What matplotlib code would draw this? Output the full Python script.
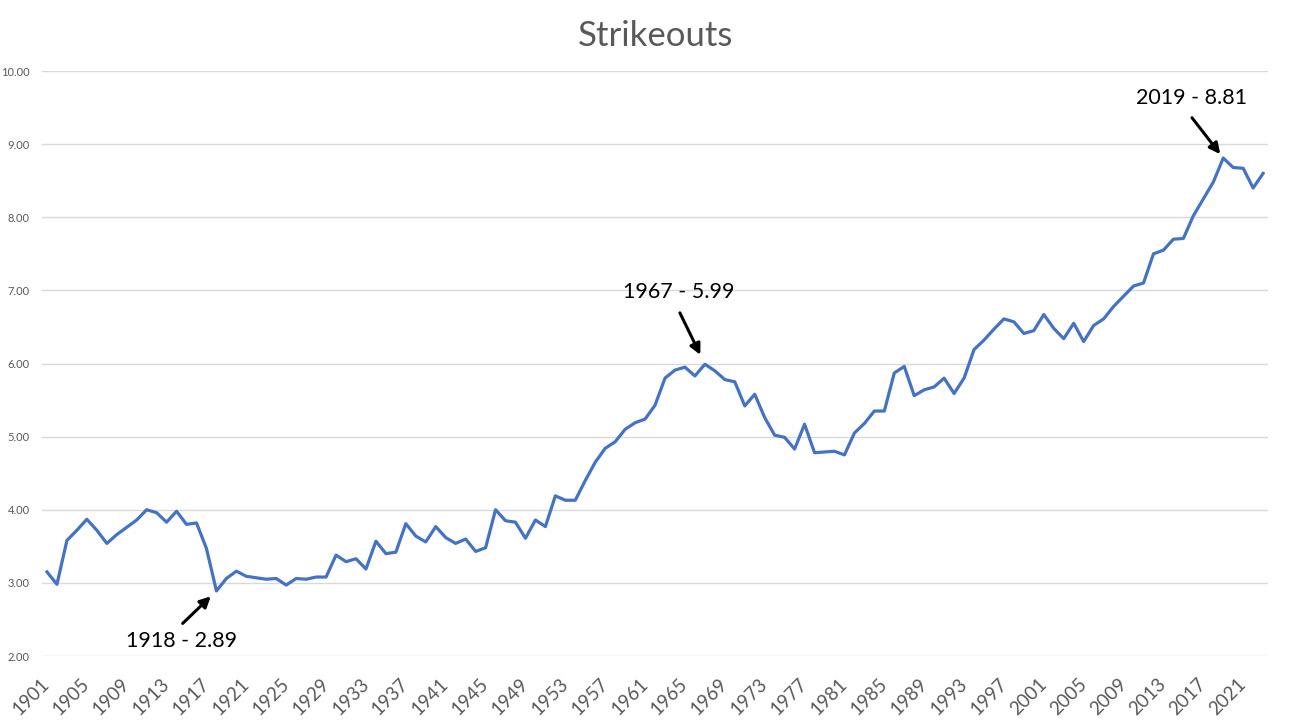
import numpy as np
import matplotlib.pyplot as plt

plt.rcParams['font.family'] = ['Lato', 'DejaVu Sans']

# 每年的三振数据
years = list(range(1901, 2024))
strikeouts = [
    3.15, 2.98, 3.58, 3.72, 3.87, 3.72, 3.54, 3.66, 3.76, 3.86,
    4.00, 3.96, 3.83, 3.98, 3.80, 3.82, 3.47, 2.89, 3.06, 3.16,
    3.09, 3.07, 3.05, 3.06, 2.97, 3.06, 3.05, 3.08, 3.08, 3.38,
    3.29, 3.33, 3.19, 3.57, 3.40, 3.42, 3.81, 3.64, 3.56, 3.77,
    3.62, 3.54, 3.60, 3.43, 3.48, 4.00, 3.85, 3.83, 3.61, 3.86,
    3.77, 4.19, 4.13, 4.13, 4.40, 4.65, 4.84, 4.93, 5.10, 5.19,
    5.24, 5.43, 5.80, 5.91, 5.95, 5.83, 5.99, 5.90, 5.78, 5.75,
    5.42, 5.58, 5.26, 5.02, 4.99, 4.83, 5.17, 4.78, 4.79, 4.80,
    4.75, 5.05, 5.18, 5.35, 5.35, 5.87, 5.96, 5.56, 5.64, 5.68,
    5.80, 5.59, 5.80, 6.19, 6.32, 6.47, 6.61, 6.57, 6.41, 6.45,
    6.67, 6.48, 6.34, 6.55, 6.30, 6.52, 6.61, 6.78, 6.92, 7.06,
    7.10, 7.50, 7.55, 7.70, 7.71, 8.02, 8.25, 8.48, 8.81, 8.68,
    8.67, 8.40, 8.60,
]
y_ticks = [2, 3, 4, 5, 6, 7, 8, 9, 10]
x_label_years = list(range(1901, 2024, 4))

# 标注的年份
callout_years = [1918, 1967, 2019]

fig = plt.figure(figsize=(12.92, 7.26), dpi=100)
ax = fig.add_axes([0.0325, 0.0964, 0.9490, 0.8058])

pos = np.arange(len(years))
ax.plot(pos, strikeouts, color='#4472C4', lw=2.3, solid_joinstyle='round')

ax.set_xlim(-0.5, len(years) - 0.5)
ax.set_ylim(2, 10)
ax.set_yticks(y_ticks)
ax.set_yticklabels(['%.2f' % v for v in y_ticks])
ax.grid(axis='y', color='#D9D9D9', lw=1)
ax.set_axisbelow(True)
for s in ax.spines.values():
    s.set_visible(False)
ax.tick_params(axis='y', length=0, pad=9, labelsize=8, labelcolor='#595959')

xt = [years.index(y) for y in x_label_years]
ax.set_xticks(xt)
ax.set_xticklabels([str(y) for y in x_label_years], rotation=45, ha='right',
                   va='center', rotation_mode='anchor')
ax.tick_params(axis='x', length=0, pad=18, labelsize=13.5, labelcolor='#595959')

ax.set_title('Strikeouts', fontsize=25, color='#595959', pad=18)

# 标注：文字偏移、箭头尾部偏移、箭头缩进（单位 points）
text_off = [(-25, -36), (-19, 52), (-23, 43.5)]
tail_off = [(-24.3, -23.4), (-18, 37), (-22.5, 29)]
head_shrink = [5.6, 7.5, 3.5]
for yr, toff, aoff, sh in zip(callout_years, text_off, tail_off, head_shrink):
    i = years.index(yr)
    v = strikeouts[i]
    ax.annotate('%d - %.2f' % (yr, v), xy=(i, v), xytext=toff,
                textcoords='offset points', ha='center', va='center',
                fontsize=15.5, color='black')
    ax.annotate('', xy=(i, v), xytext=aoff, textcoords='offset points',
                arrowprops=dict(arrowstyle='-|>', color='black', lw=2.2,
                                mutation_scale=16, shrinkA=0, shrinkB=sh))

fig.savefig('out.png', dpi=100)
